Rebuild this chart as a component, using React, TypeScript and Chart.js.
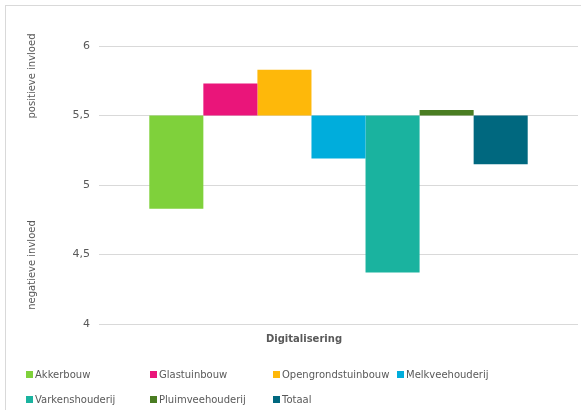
import React, { useEffect, useRef } from "react";
import { Chart, registerables } from "chart.js";

Chart.register(...registerables);

const categories = ["Digitalisering"];
const seriesNames = [
  "Akkerbouw",
  "Glastuinbouw",
  "Opengrondstuinbouw",
  "Melkveehouderij",
  "Varkenshouderij",
  "Pluimveehouderij",
  "Totaal",
];
const baseline = 5.5;
const seriesValues = [4.83, 5.73, 5.83, 5.19, 4.37, 5.54, 5.15];
const seriesColors = ["#7fd13b", "#ea157a", "#feb80a", "#00addc", "#1ab39f", "#4a7d22", "#00687f"];
const yTicks = [4, 4.5, 5, 5.5, 6];
const sideLabels = ["positieve invloed", "negatieve invloed"];

const FONT = "'DejaVu Sans', Verdana, sans-serif";
const GREY = "#595959";

export default function App() {
  const ref = useRef<HTMLCanvasElement | null>(null);

  useEffect(() => {
    if (!ref.current) return;
    const textPlugin = {
      id: "extraText",
      afterDraw(chart: any) {
        const ctx = chart.ctx;
        ctx.save();
        ctx.fillStyle = GREY;
        ctx.textAlign = "center";
        ctx.textBaseline = "middle";
        ctx.font = `bold 10px ${FONT}`;
        ctx.fillText(categories[0], 298, 333);
        ctx.font = `10px ${FONT}`;
        const pos = [
          [26, 70],
          [26, 259],
        ];
        sideLabels.forEach((t, i) => {
          ctx.save();
          ctx.translate(pos[i][0], pos[i][1]);
          ctx.rotate(-Math.PI / 2);
          ctx.fillText(t, 0, 0);
          ctx.restore();
        });
        ctx.restore();
      },
    };
    const chart = new Chart(ref.current, {
      type: "bar",
      data: {
        labels: categories,
        datasets: seriesNames.map((name, i) => ({
          label: name,
          data: [[baseline, seriesValues[i]]] as any,
          backgroundColor: seriesColors[i],
          borderWidth: 0,
          categoryPercentage: 0.79,
          barPercentage: 1,
        })),
      },
      options: {
        responsive: false,
        animation: false,
        layout: { padding: { top: 40, bottom: 87, left: 0, right: 0 } },
        plugins: { legend: { display: false }, tooltip: { enabled: false } },
        scales: {
          x: { display: false },
          y: {
            min: yTicks[0],
            max: yTicks[yTicks.length - 1],
            afterFit: (s: any) => {
              s.width = 93;
            },
            afterBuildTicks: (s: any) => {
              s.ticks = yTicks.map((v) => ({ value: v }));
            },
            ticks: {
              color: GREY,
              font: { family: FONT, size: 11 },
              padding: 9,
              callback: (v: any) => String(v).replace(".", ","),
            },
            grid: { color: "#d9d9d9", lineWidth: 1, drawTicks: false },
            border: { display: false },
          },
        },
      },
      plugins: [textPlugin],
    });
    return () => chart.destroy();
  }, []);

  const colX = [20, 144, 267, 391];
  const rowY = [368, 393];

  return (
    <div style={{ position: "absolute", left: 0, top: 0, width: 581, height: 410, background: "#fff", overflow: "hidden" }}>
      <div style={{ position: "absolute", left: 5, top: 5, width: 590, height: 420, border: "1px solid #d9d9d9", boxSizing: "border-box" }}>
        <canvas ref={ref} width={572} height={405} style={{ position: "absolute", left: 0, top: 0 }} />
        {seriesNames.map((name, i) => (
          <div
            key={name}
            style={{
              position: "absolute",
              left: colX[i % 4],
              top: rowY[Math.floor(i / 4)] - 7,
              height: 14,
              display: "flex",
              alignItems: "center",
              fontFamily: FONT,
              fontSize: 10,
              color: GREY,
              whiteSpace: "nowrap",
            }}
          >
            <span style={{ display: "inline-block", width: 7, height: 7, background: seriesColors[i], marginRight: 2 }} />
            {name}
          </div>
        ))}
      </div>
    </div>
  );
}
